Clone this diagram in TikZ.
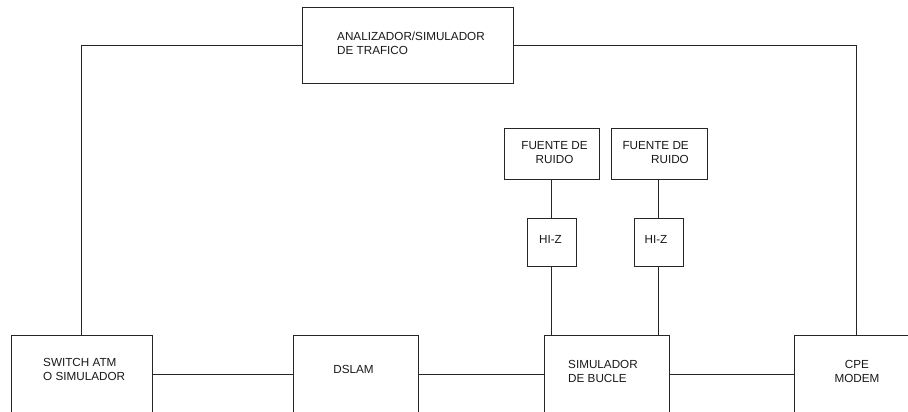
\documentclass[tikz,border=0pt]{standalone}
\usepackage{fontspec}
\setmainfont{Liberation Sans}
\usetikzlibrary{positioning}

\begin{document}
\begin{tikzpicture}[x=1pt, y=1pt,
  blk/.style={draw=black!85, line width=0.9pt, inner sep=0pt},
  lbl/.style={font=\fontsize{11.7}{14}\selectfont, inner sep=0pt, text=black!90},
  wire/.style={draw=black!85, line width=0.9pt},
]
\useasboundingbox (0,0) rectangle (908,412);
\clip (0,0) rectangle (908,412);

% Analyzer on top
\node[blk, minimum width=211, minimum height=76] (ana) at (407.5,367) {};
\node[lbl, align=left, anchor=west] (anat) at (337,369)
  {ANALIZADOR/SIMULADOR\\DE TRAFICO};

% Noise sources and high-impedance couplers
\node[blk, minimum width=95, minimum height=51] (fr1) at (551.5,258.5) {};
\node[lbl, align=center] (fr1t) at (554.5,259) {FUENTE DE\\RUIDO};
\node[blk, minimum width=96, minimum height=51] (fr2) at (659,258.5) {};
\node[lbl, align=right, anchor=east] (fr2t) at (689,259) {FUENTE DE\\RUIDO};
\node[blk, minimum width=49, minimum height=48] (hz1) at (551.5,170) {};
\node[lbl] (hz1t) at (550.5,173) {HI-Z};
\node[blk, minimum width=49, minimum height=48] (hz2) at (658.5,170) {};
\node[lbl] (hz2t) at (656,173) {HI-Z};

% Bottom row (boxes run past the lower edge)
\node[blk, minimum width=141, minimum height=110, anchor=north] (sw) at (81.5,77) {};
\node[lbl, align=left, anchor=west] (swt) at (43,43) {SWITCH ATM\\O SIMULADOR};
\node[blk, minimum width=125, minimum height=110, anchor=north] (dslam) at (355.5,77) {};
\node[lbl] (dslamt) at (353.5,43) {DSLAM};
\node[blk, minimum width=125, minimum height=110, anchor=north] (sim) at (606.5,77) {};
\node[lbl, align=left, anchor=west] (simt) at (568,41) {SIMULADOR\\DE BUCLE};
\node[blk, minimum width=124, minimum height=110, anchor=north] (cpe) at (856,77) {};
\node[lbl, align=center] (cpet) at (857,40.5) {CPE\\MODEM};

% Connections
\coordinate (bus) at (0,38);
\draw[wire] (sw.east |- bus) -- (dslam.west |- bus);
\draw[wire] (dslam.east |- bus) -- (sim.west |- bus);
\draw[wire] (sim.east |- bus) -- (cpe.west |- bus);
\draw[wire] (sw.north) |- (ana.west);
\draw[wire] (ana.east) -| (cpe.north);
\draw[wire] (hz1.north |- fr1.south) -- (hz1.north);
\draw[wire] (hz2.north |- fr2.south) -- (hz2.north);
\draw[wire] (hz1.south) -- (hz1.south |- sim.north);
\draw[wire] (hz2.south) -- (hz2.south |- sim.north);

\end{tikzpicture}
\end{document}
